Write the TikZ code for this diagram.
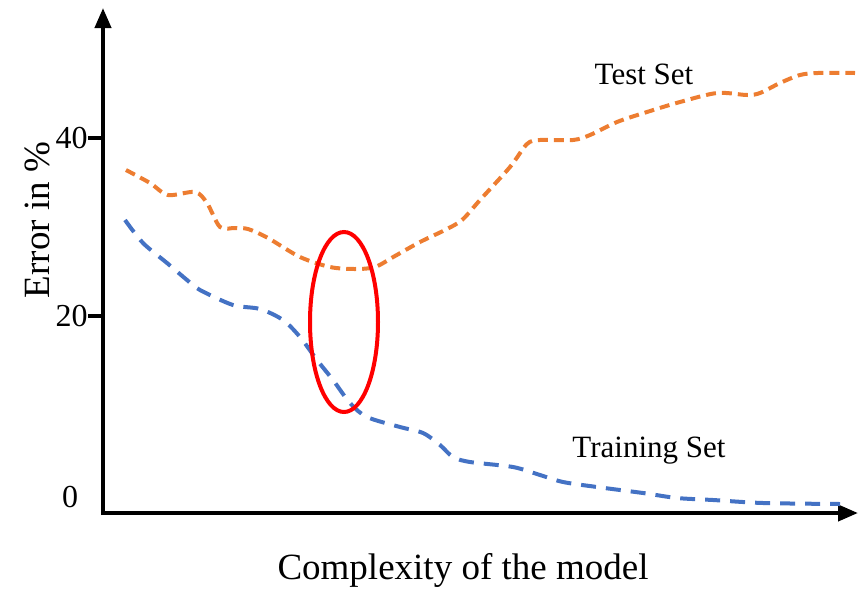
\documentclass[tikz,border=0pt]{standalone}
\usepackage{fontspec}
\setmainfont{Liberation Serif}
\usetikzlibrary{arrows.meta}
\definecolor{testorange}{HTML}{ED7D31}
\definecolor{trainblue}{HTML}{4472C4}
\begin{document}
\begin{tikzpicture}[x=0.5pt, y=-0.5pt]
            \tikzstyle{axis} = [line width=2pt, -{Triangle[length=10pt, width=8pt]}]
            \tikzstyle{tick} = [line width=2pt]
            \tikzstyle{test curve} = [color=testorange, line width=2pt, dash pattern=on 5pt off 3pt]
            \tikzstyle{train curve} = [color=trainblue, line width=2pt, dash pattern=on 7.5pt off 5pt]
            \tikzstyle{label} = [font=\fontsize{16}{18}\selectfont, inner sep=0pt]
            \useasboundingbox (0, 0) rectangle (858, 590);
            \coordinate (origin) at (103, 513);
            \coordinate (ytop) at (103, 8);
            \coordinate (xend) at (858, 513);
            \draw[axis] (103, 515) -- (ytop);
            \draw[axis] (101, 513) -- (xend);
            \coordinate (t40) at (103, 138);
            \coordinate (t20) at (103, 316);
            \draw[tick] (t40) -- ++(-15, 0) coordinate (t40l);
            \draw[tick] (t20) -- ++(-15, 0) coordinate (t20l);
            \node[label, left] (l40) at (t40l) {40};
            \node[label, left] (l20) at (t20l) {20};
            \node[label] (l0) at (70, 497) {0};
            \node[font=\fontsize{18.5}{20}\selectfont, rotate=90] (ylabel) at (37, 220) {Error in \%};
            \node[font=\fontsize{18.5}{20}\selectfont] (xlabel) at (463, 570) {Complexity of the model};
            % test error
            \draw[test curve] plot[smooth, tension=0.5] coordinates {
                (126, 170) (150, 183) (168, 195) (195, 192) (207, 203) (220, 227)
                (235, 228) (248, 229) (268, 238) (300, 257) (330, 267) (355, 269)
                (375, 267) (395, 256) (420, 242) (445, 230) (462, 220) (480, 200)
                (510, 167) (527, 144) (540, 140) (573, 140) (590, 135) (617, 122)
                (647, 112) (680, 102) (717, 93) (747, 95) (760, 93) (780, 83)
                (800, 75) (818, 73) (855, 73)};
            % training error
            \draw[train curve] plot[smooth, tension=0.5] coordinates {
                (125, 220) (143, 243) (167, 263) (187, 280) (200, 290) (233, 305)
                (260, 309) (283, 320) (300, 337) (317, 360) (333, 380) (350, 403)
                (367, 417) (400, 427) (423, 433) (440, 445) (453, 457) (470, 462)
                (513, 467) (540, 475) (563, 482) (597, 487) (643, 493) (677, 498)
                (713, 500) (763, 503) (840, 504)};
            \draw[red, line width=2pt] (344, 322) ellipse [x radius=34, y radius=90];
            \node[font=\fontsize{15.5}{18}\selectfont] (test) at (644, 74) {Test Set};
            \node[font=\fontsize{15.5}{18}\selectfont] (train) at (649, 451) {Training Set};
        \end{tikzpicture}
\end{document}
